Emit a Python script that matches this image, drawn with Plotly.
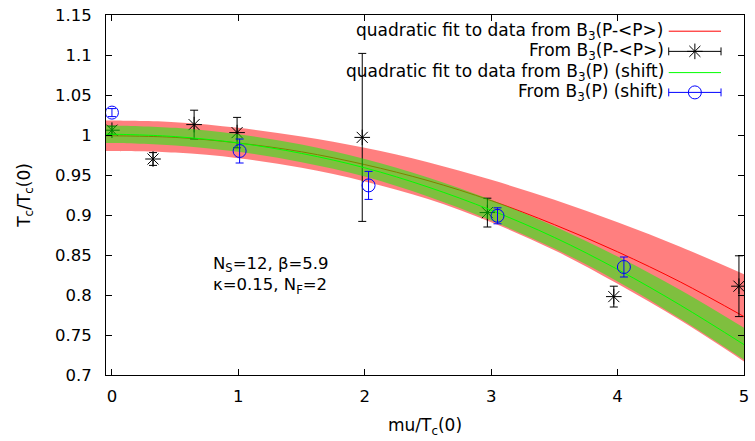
import plotly.graph_objects as go

# ---- data ----
# From B3(P-<P>)
black_x = [0.0, 0.325, 0.65, 0.99, 1.98, 2.97, 3.97, 4.96]
black_y = [1.006, 0.970, 1.013, 1.003, 0.997, 0.903, 0.798, 0.811]
black_err = [0.005, 0.008, 0.018, 0.019, 0.105, 0.018, 0.013, 0.038]

# From B3(P) (shift)
blue_x = [0.0, 1.01, 2.03, 3.05, 4.05]
blue_y = [1.028, 0.980, 0.937, 0.899, 0.835]
blue_err = [0.005, 0.015, 0.0175, 0.010, 0.0125]

# quadratic fit curves and their error bands (read at these x values)
fit_x = [-0.05, 0.0, 0.5, 1.0, 1.5, 2.0, 2.5, 3.0, 3.5, 4.0, 4.5, 5.0]
red_mid = [0.999, 0.999, 0.997, 0.990, 0.979, 0.963, 0.943, 0.918, 0.888, 0.854, 0.816, 0.773]
red_lo = [0.980, 0.980, 0.978, 0.971, 0.959, 0.942, 0.920, 0.891, 0.856, 0.814, 0.768, 0.717]
red_hi = [1.018, 1.018, 1.016, 1.009, 0.998, 0.984, 0.966, 0.944, 0.919, 0.891, 0.860, 0.826]
green_mid = [1.001, 1.001, 0.998, 0.990, 0.977, 0.959, 0.935, 0.906, 0.872, 0.832, 0.787, 0.738]
green_lo = [0.990, 0.990, 0.987, 0.979, 0.966, 0.948, 0.923, 0.893, 0.858, 0.817, 0.770, 0.719]
green_hi = [1.012, 1.012, 1.009, 1.001, 0.988, 0.970, 0.947, 0.919, 0.886, 0.848, 0.806, 0.759]

x_ticks = [0, 1, 2, 3, 4, 5]
y_ticks = [0.7, 0.75, 0.8, 0.85, 0.9, 0.95, 1.0, 1.05, 1.1, 1.15]
y_tick_text = ["0.7", "0.75", "0.8", "0.85", "0.9", "0.95", "1", "1.05", "1.1", "1.15"]

legend_labels = [
    "quadratic fit to data from B<sub>3</sub>(P-&lt;P&gt;)",
    "From B<sub>3</sub>(P-&lt;P&gt;)",
    "quadratic fit to data from B<sub>3</sub>(P) (shift)",
    "From B<sub>3</sub>(P) (shift)",
]
info_lines = ["N<sub>S</sub>=12, β=5.9", "κ=0.15, N<sub>F</sub>=2"]

FONT = "DejaVu Sans"
FS = 17
FS_TICK = 16.5
RED_FILL = "rgba(255,0,0,0.5)"
GREEN_FILL = "rgba(0,255,0,0.5)"

fig = go.Figure()

# red band + line
fig.add_trace(go.Scatter(x=fit_x, y=red_lo, mode="lines", line=dict(width=0, shape="spline"),
                         showlegend=False, hoverinfo="skip"))
fig.add_trace(go.Scatter(x=fit_x, y=red_hi, mode="lines", line=dict(width=0, shape="spline"),
                         fill="tonexty", fillcolor=RED_FILL, showlegend=False, hoverinfo="skip"))
fig.add_trace(go.Scatter(x=fit_x, y=red_mid, mode="lines", line=dict(color="#ff0000", width=1, shape="spline"),
                         showlegend=False))
# black stars
fig.add_trace(go.Scatter(x=black_x, y=black_y, mode="markers",
                         marker=dict(symbol="asterisk-open", size=13, color="black",
                                     line=dict(color="black", width=1)),
                         error_y=dict(type="data", array=black_err, color="black", thickness=1, width=4),
                         showlegend=False))
# green band + line
fig.add_trace(go.Scatter(x=fit_x, y=green_lo, mode="lines", line=dict(width=0, shape="spline"),
                         showlegend=False, hoverinfo="skip"))
fig.add_trace(go.Scatter(x=fit_x, y=green_hi, mode="lines", line=dict(width=0, shape="spline"),
                         fill="tonexty", fillcolor=GREEN_FILL, showlegend=False, hoverinfo="skip"))
fig.add_trace(go.Scatter(x=fit_x, y=green_mid, mode="lines", line=dict(color="#00ff00", width=1, shape="spline"),
                         showlegend=False))
# blue circles
fig.add_trace(go.Scatter(x=blue_x, y=blue_y, mode="markers",
                         marker=dict(symbol="circle-open", size=13, color="blue",
                                     line=dict(color="blue", width=1)),
                         error_y=dict(type="data", array=blue_err, color="blue", thickness=1, width=4),
                         showlegend=False))

# ---- manual gnuplot-style key on an overlay axis (0..1 in plot area) ----
key_y = [0.955, 0.899, 0.840, 0.785]
sx0, sx1, smid = 0.882, 0.964, 0.923
key_colors = ["#ff0000", "black", "#00ff00", "blue"]
key_symbols = [None, "asterisk-open", None, "circle-open"]
for i, lab in enumerate(legend_labels):
    fig.add_trace(go.Scatter(x=[sx0, sx1], y=[key_y[i], key_y[i]], mode="lines",
                             line=dict(color=key_colors[i], width=1), xaxis="x2", yaxis="y2",
                             showlegend=False, hoverinfo="skip"))
    if key_symbols[i]:
        fig.add_trace(go.Scatter(x=[smid], y=[key_y[i]], mode="markers",
                                 marker=dict(symbol=key_symbols[i], size=13, color=key_colors[i],
                                             line=dict(color=key_colors[i], width=1)),
                                 xaxis="x2", yaxis="y2", showlegend=False, hoverinfo="skip"))
        for cx in (sx0, sx1):
            fig.add_shape(type="line", xref="x2", yref="y2", x0=cx, x1=cx,
                          y0=key_y[i] - 0.011, y1=key_y[i] + 0.011,
                          line=dict(color=key_colors[i], width=1))
    fig.add_annotation(x=0.876, y=key_y[i], xref="x2", yref="y2", text=lab, showarrow=False,
                       xanchor="right", yanchor="middle", borderpad=0,
                       font=dict(family=FONT, size=FS, color="black"))

# info text (two lines in one block)
fig.add_annotation(x=0.795, y=0.824, xref="x", yref="y", text="<br>".join(info_lines), showarrow=False,
                   xanchor="left", yanchor="middle", align="left", borderpad=0,
                   font=dict(family=FONT, size=16.5, color="black"))

axis_common = dict(showline=True, linecolor="black", linewidth=1, mirror="ticks", ticks="inside",
                   ticklen=6, tickcolor="black", showgrid=False, zeroline=False,
                   tickfont=dict(family=FONT, size=FS_TICK, color="black"))

fig.update_layout(
    width=755, height=441,
    margin=dict(l=106, r=6, t=14, b=66),
    paper_bgcolor="white", plot_bgcolor="white",
    font=dict(family=FONT, size=FS, color="black"),
    showlegend=False,
    xaxis=dict(range=[-0.047, 5.0], tickvals=x_ticks, ticklabelstandoff=6,
               title=dict(text="mu/T<sub>c</sub>(0)", font=dict(family=FONT, size=FS), standoff=14),
               **axis_common),
    yaxis=dict(range=[0.7, 1.15], tickvals=y_ticks, ticktext=y_tick_text, ticklabelstandoff=10,
               title=dict(text="T<sub>c</sub>/T<sub>c</sub>(0)", font=dict(family=FONT, size=FS), standoff=20),
               **axis_common),
    xaxis2=dict(range=[0, 1], overlaying="x", visible=False, fixedrange=True),
    yaxis2=dict(range=[0, 1], overlaying="y", visible=False, fixedrange=True),
)

fig.write_html("out.html")
